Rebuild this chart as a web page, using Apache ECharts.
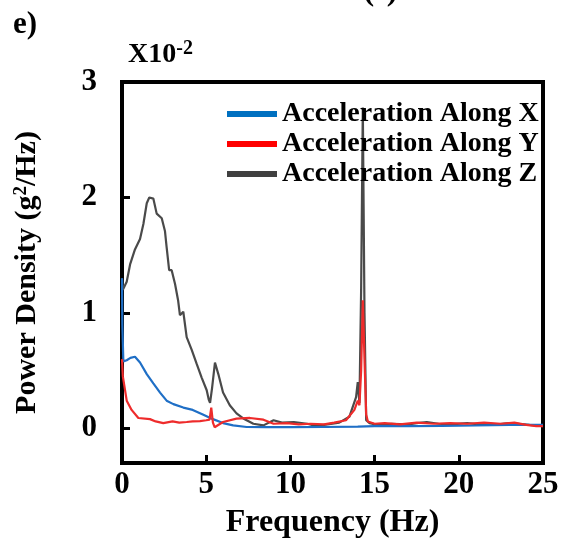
<!DOCTYPE html>
<html><head><meta charset="utf-8">
<script src="https://cdn.jsdelivr.net/npm/echarts@6/dist/echarts.min.js"></script>
<style>html,body{margin:0;padding:0;background:#fff}#c{width:564px;height:540px}</style>
</head><body><div id="c"></div>
<script>
// ---- Data (values in units of 1e-2 g^2/Hz) ----
const seriesNames = ['Acceleration Along X', 'Acceleration Along Y', 'Acceleration Along Z'];
const xTicks = [0, 5, 10, 15, 20, 25];
const yTicks = [0, 1, 2, 3];

const freqX = [0, 0.02, 0.08, 0.28, 0.5, 0.77, 1.07, 1.47, 1.86, 2.26, 2.65, 3.05, 3.64, 4.2, 4.8, 5.4, 6.0, 6.6, 7.4, 8.5, 10, 12, 14, 15, 17, 19, 21, 23, 24.5, 25];
const valX  = [1.3, 0.9, 0.58, 0.59, 0.61, 0.62, 0.57, 0.47, 0.39, 0.31, 0.24, 0.21, 0.18, 0.16, 0.12, 0.08, 0.046, 0.026, 0.012, 0.01, 0.01, 0.012, 0.015, 0.02, 0.02, 0.022, 0.025, 0.03, 0.03, 0.03];

const freqY = [0, 0.05, 0.28, 0.57, 0.97, 1.66, 2.0, 2.45, 3.0, 3.4, 3.84, 4.2, 4.63, 5.0, 5.2, 5.3, 5.4, 5.5, 6.0, 6.8, 7.6, 8.4, 9.0, 9.8, 10.5, 11.2, 12.0, 12.6, 13.3, 13.8, 14.0, 14.1, 14.2, 14.3, 14.4, 14.5, 14.6, 15.0, 15.6, 16.5, 17.5, 18.5, 19.5, 20.5, 21.5, 22.5, 23.3, 24.0, 24.6, 25];
const valY  = [0.6, 0.45, 0.24, 0.16, 0.09, 0.08, 0.06, 0.046, 0.06, 0.05, 0.055, 0.06, 0.063, 0.07, 0.075, 0.18, 0.05, 0.01, 0.055, 0.084, 0.09, 0.075, 0.04, 0.045, 0.035, 0.04, 0.035, 0.05, 0.07, 0.16, 0.24, 0.2, 0.5, 1.11, 0.6, 0.12, 0.06, 0.04, 0.045, 0.035, 0.05, 0.04, 0.045, 0.04, 0.05, 0.04, 0.05, 0.03, 0.02, 0.02];

const freqZ = [0, 0.05, 0.28, 0.48, 0.77, 1.07, 1.27, 1.47, 1.62, 1.86, 2.06, 2.36, 2.55, 2.65, 2.8, 2.95, 3.15, 3.33, 3.44, 3.64, 3.84, 4.14, 4.43, 4.73, 5.03, 5.15, 5.23, 5.35, 5.52, 5.72, 6.0, 6.4, 6.8, 7.2, 7.8, 8.4, 9.0, 9.5, 10.2, 11.0, 11.5, 12.2, 12.9, 13.5, 13.9, 14.0, 14.1, 14.2, 14.3, 14.4, 14.5, 14.7, 15.2, 16.0, 17.0, 17.5, 18.1, 18.8, 19.5, 20.5, 21.5, 22.3, 23.0, 23.5, 24.2, 25];
const valZ  = [1.3, 1.2, 1.27, 1.42, 1.55, 1.64, 1.77, 1.95, 2.0, 1.99, 1.86, 1.82, 1.71, 1.57, 1.37, 1.37, 1.25, 1.11, 0.98, 1.01, 0.79, 0.68, 0.56, 0.44, 0.33, 0.25, 0.22, 0.35, 0.57, 0.47, 0.31, 0.2, 0.13, 0.086, 0.04, 0.026, 0.07, 0.05, 0.055, 0.04, 0.02, 0.035, 0.05, 0.1, 0.27, 0.4, 0.22, 1.2, 2.78, 1.0, 0.07, 0.045, 0.03, 0.04, 0.035, 0.045, 0.055, 0.04, 0.035, 0.045, 0.03, 0.035, 0.045, 0.04, 0.03, 0.02];

const colors = ['#1f6fc6', '#ee2b2b', '#4a4a4a'];
const legendColors = ['#0070c0', '#ff0000', '#404040'];

const pairs = (f, v) => f.map((x, i) => [x, v[i]]);
const font = '"Liberation Serif", "Times New Roman", serif';

const chart = echarts.init(document.getElementById('c'), null, {renderer: 'canvas'});
chart.setOption({
  animation: false,
  backgroundColor: '#fff',
  grid: {left: 122, right: 21, top: 82, bottom: 77, show: true, borderColor: '#000', borderWidth: 4,
         containLabel: false, outerBoundsMode: 'none'},
  legend: {
    left: 222, top: 95, orient: 'vertical', itemGap: 2,
    itemWidth: 50, itemHeight: 6, icon: 'rect',
    textStyle: {fontFamily: font, fontWeight: 'bold', fontSize: 28, color: '#000', padding: [0, 0, 8, 0]},
    data: seriesNames.map((n, i) => ({name: n, itemStyle: {color: legendColors[i]}}))
  },
  xAxis: {
    type: 'value', min: 0, max: 25, interval: 5,
    name: 'Frequency (Hz)', nameLocation: 'middle', nameGap: 44,
    nameTextStyle: {fontFamily: font, fontWeight: 'bold', fontSize: 32, color: '#000'},
    axisLine: {show: true, onZero: false, lineStyle: {color: '#000', width: 4}},
    axisTick: {show: true, inside: true, length: 8, lineStyle: {color: '#000', width: 3}},
    axisLabel: {fontFamily: font, fontWeight: 'bold', fontSize: 31, color: '#000', margin: 6},
    splitLine: {show: false}
  },
  yAxis: {
    type: 'value', min: -0.3, max: 3,
    name: 'Power Density (g{s|2}/Hz)', nameLocation: 'middle', nameGap: 79, nameRotate: 90,
    nameTextStyle: {fontFamily: font, fontWeight: 'bold', fontSize: 30, color: '#000',
      rich: {s: {fontFamily: font, fontWeight: 'bold', fontSize: 19, color: '#000', verticalAlign: 'top', padding: [0,0,12,0]}}},
    axisLine: {show: true, onZero: false, lineStyle: {color: '#000', width: 4}},
    axisTick: {show: true, inside: true, length: 8, lineStyle: {color: '#000', width: 3}, customValues: yTicks},
    axisLabel: {fontFamily: font, fontWeight: 'bold', fontSize: 31, color: '#000', margin: 25, customValues: yTicks},
    splitLine: {show: false}
  },
  graphic: [
    {type: 'text', left: 13, top: 9, style: {text: 'e)', font: 'bold 31px ' + font, fill: '#000'}},
    {type: 'text', left: 285, top: -24, style: {text: 'Time (s)', font: 'bold 32px ' + font, fill: '#000'}},
    {type: 'text', left: 128, top: 39, style: {
      text: 'X10{s|-2}', font: 'bold 28px ' + font, fill: '#000',
      rich: {s: {fontFamily: font, fontWeight: 'bold', fontSize: 20, verticalAlign: 'top', padding: [0,0,12,0]}}
    }}
  ],
  series: [
    {name: seriesNames[0], type: 'line', data: pairs(freqX, valX), showSymbol: false, lineStyle: {width: 2.2, color: colors[0]}, itemStyle: {color: colors[0]}, z: 3},
    {name: seriesNames[1], type: 'line', data: pairs(freqY, valY), showSymbol: false, lineStyle: {width: 2.2, color: colors[1]}, itemStyle: {color: colors[1]}, z: 4},
    {name: seriesNames[2], type: 'line', data: pairs(freqZ, valZ), showSymbol: false, lineStyle: {width: 2.2, color: colors[2]}, itemStyle: {color: colors[2]}, z: 2}
  ]
});
</script></body></html>
